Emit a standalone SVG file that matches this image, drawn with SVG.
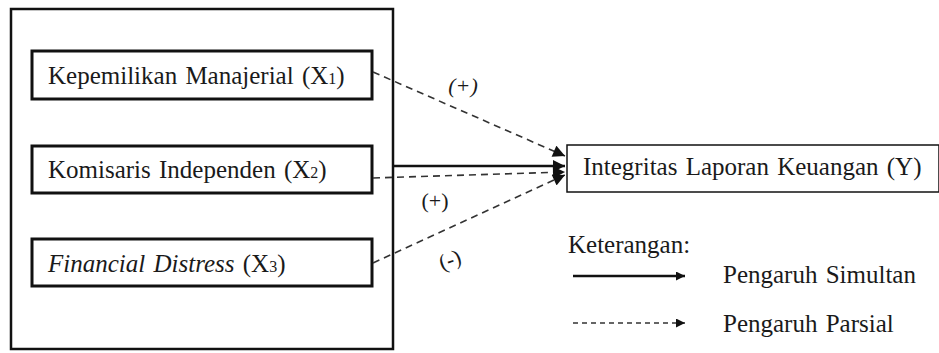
<svg xmlns="http://www.w3.org/2000/svg" width="939" height="353" viewBox="0 0 939 353">
<style>
text{font-family:"Liberation Serif","Times New Roman",serif;font-size:25px;fill:#1a1a1a;word-spacing:2px}
.box{fill:#fff;stroke:#111;stroke-width:3}
.dash{fill:none;stroke:#333;stroke-width:1.6;stroke-dasharray:7,5}
.solid{fill:none;stroke:#111;stroke-width:2.5}
.sub{font-size:16px}
.lbl{font-size:22px;text-anchor:middle}
</style>
<defs>
<marker id="ah" viewBox="0 0 10 10" refX="10" refY="5" markerWidth="10" markerHeight="9" markerUnits="userSpaceOnUse" orient="auto"><path d="M0,0L10,5L0,10z" fill="#111"/></marker>
<marker id="ahs" viewBox="0 0 10 10" refX="10" refY="5" markerWidth="13" markerHeight="12" markerUnits="userSpaceOnUse" orient="auto"><path d="M0,0L10,5L0,10z" fill="#111"/></marker>
</defs>
<g id="group-x">
<rect x="11" y="9" width="382" height="340" fill="none" stroke="#111" stroke-width="2.5"/>
</g>
<g id="x1"><rect class="box" x="32" y="51" width="340" height="48"/><text x="48" y="84">Kepemilikan Manajerial (X<tspan class="sub">1</tspan>)</text></g>
<g id="x2"><rect class="box" x="32" y="146" width="340" height="47"/><text x="48" y="178">Komisaris Independen (X<tspan class="sub">2</tspan>)</text></g>
<g id="x3"><rect class="box" x="32" y="239" width="340" height="47"/><text x="48" y="272"><tspan font-style="italic">Financial Distress</tspan> (X<tspan class="sub">3</tspan>)</text></g>
<g id="y"><rect x="567" y="145" width="372" height="47" fill="#fff" stroke="#111" stroke-width="1.5"/><text x="583" y="175">Integritas Laporan Keuangan (Y)</text></g>
<g id="connectors">
<line class="dash" x1="373" y1="72" x2="565" y2="156" marker-end="url(#ahs)"/>
<line class="solid" x1="393" y1="166" x2="565" y2="166" marker-end="url(#ahs)"/>
<line class="dash" x1="373" y1="178" x2="565" y2="172" marker-end="url(#ahs)"/>
<line class="dash" x1="373" y1="263" x2="565" y2="175" marker-end="url(#ahs)"/>
</g>
<g id="labels">
<text class="lbl" x="463" y="93" font-style="italic">(+)</text>
<text class="lbl" x="435" y="208">(+)</text>
<text class="lbl" x="450" y="267" transform="rotate(-20 450 260)">(-)</text>
</g>
<g id="legend">
<text x="568" y="253">Keterangan:</text>
<line x1="573" y1="276" x2="685" y2="276" stroke="#111" stroke-width="2.5" marker-end="url(#ah)"/>
<text x="723" y="283">Pengaruh Simultan</text>
<line x1="573" y1="323" x2="685" y2="323" stroke="#333" stroke-width="1.3" stroke-dasharray="5,4" marker-end="url(#ah)"/>
<text x="723" y="332">Pengaruh Parsial</text>
</g>
</svg>
